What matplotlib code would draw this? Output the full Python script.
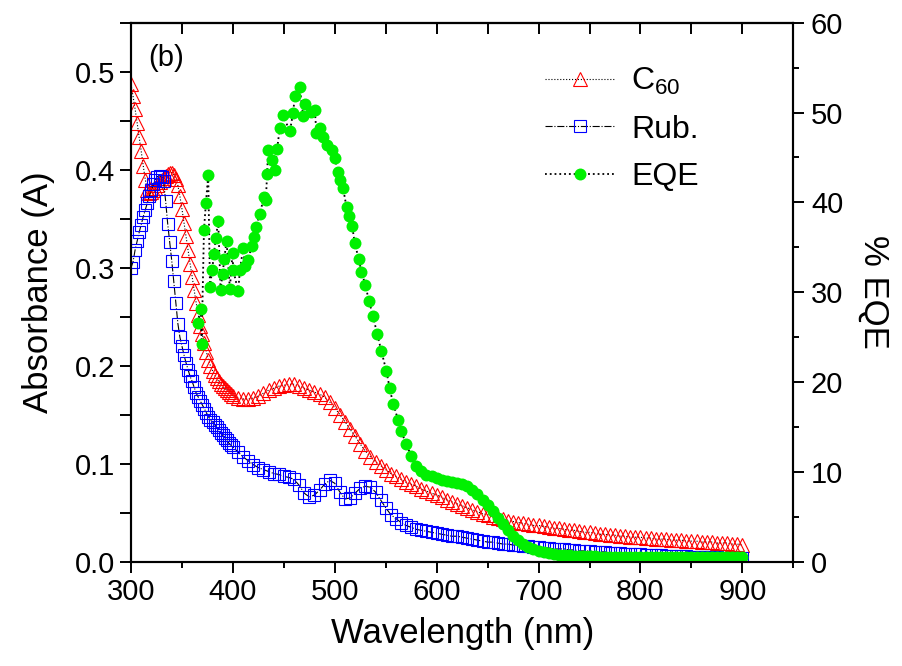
import numpy as np
import matplotlib
matplotlib.use("Agg")
import matplotlib.pyplot as plt
from matplotlib.ticker import MultipleLocator

plt.rcParams['font.family'] = ['Liberation Sans', 'DejaVu Sans']
plt.rcParams['mathtext.default'] = 'regular'

# ---------------- data ----------------
wl = list(range(300, 401, 2)) + list(range(405, 905, 5))

c60 = [0.487, 0.475, 0.462, 0.448, 0.433, 0.419, 0.404, 0.390, 0.379, 0.376,
       0.377, 0.379, 0.381, 0.384, 0.387, 0.389, 0.392, 0.394, 0.396, 0.397,
       0.397, 0.395, 0.391, 0.384, 0.373, 0.360, 0.346, 0.332, 0.318, 0.304,
       0.291, 0.277, 0.264, 0.252, 0.241, 0.232, 0.223, 0.214, 0.206, 0.200,
       0.195, 0.191, 0.187, 0.184, 0.181, 0.179, 0.177, 0.175, 0.173, 0.171,
       0.169,
       0.167, 0.166, 0.166, 0.167, 0.169, 0.172, 0.175, 0.177, 0.179,
       0.180, 0.181, 0.181, 0.179, 0.177, 0.175, 0.173, 0.171, 0.168, 0.163,
       0.157, 0.150, 0.143, 0.135, 0.128, 0.120, 0.113, 0.107, 0.102, 0.098,
       0.094, 0.090, 0.087, 0.084, 0.081, 0.079, 0.077, 0.074, 0.072, 0.070,
       0.068, 0.066, 0.063, 0.061, 0.059, 0.057, 0.055, 0.053, 0.051, 0.049,
       0.048, 0.046, 0.045, 0.044, 0.042, 0.041, 0.040, 0.039, 0.038, 0.037,
       0.037, 0.036, 0.035, 0.034, 0.034, 0.033, 0.032, 0.032, 0.031, 0.030,
       0.030, 0.029, 0.028, 0.028, 0.027, 0.027, 0.026, 0.026, 0.025, 0.025,
       0.025, 0.024, 0.024, 0.023, 0.023, 0.023, 0.022, 0.022, 0.022, 0.021,
       0.021, 0.021, 0.020, 0.020, 0.020, 0.019, 0.019, 0.019, 0.018, 0.018,
       0.017]

rub = [0.300, 0.306, 0.318, 0.327, 0.336, 0.344, 0.352, 0.359, 0.366, 0.373,
       0.379, 0.385, 0.390, 0.393, 0.394, 0.393, 0.388, 0.368, 0.345, 0.326,
       0.307, 0.286, 0.264, 0.243, 0.229, 0.220, 0.211, 0.203, 0.196, 0.189,
       0.184, 0.178, 0.172, 0.168, 0.164, 0.160, 0.156, 0.152, 0.148, 0.145,
       0.143, 0.140, 0.137, 0.134, 0.131, 0.129, 0.126, 0.124, 0.121, 0.119,
       0.117,
       0.112, 0.107, 0.103, 0.099, 0.096, 0.094, 0.092, 0.090, 0.089,
       0.087, 0.086, 0.084, 0.078, 0.070, 0.066, 0.068, 0.073, 0.079, 0.083,
       0.080, 0.071, 0.064, 0.065, 0.070, 0.075, 0.077, 0.076, 0.071, 0.063,
       0.055, 0.048, 0.044, 0.040, 0.037, 0.035, 0.033, 0.032, 0.031, 0.030,
       0.029, 0.028, 0.027, 0.026, 0.026, 0.025, 0.024, 0.023, 0.022, 0.021,
       0.020, 0.020, 0.019, 0.018, 0.018, 0.017, 0.017, 0.016, 0.016, 0.015,
       0.015, 0.014, 0.014, 0.013, 0.013, 0.013, 0.012, 0.012, 0.011, 0.011,
       0.011, 0.010, 0.010, 0.010, 0.009, 0.009, 0.009, 0.008, 0.008, 0.008,
       0.008, 0.007, 0.007, 0.007, 0.007, 0.006, 0.006, 0.006, 0.006, 0.006,
       0.005, 0.005, 0.005, 0.005, 0.005, 0.005, 0.004, 0.004, 0.004, 0.004,
       0.004]

eqe_wl = [366.0, 368.3, 369.3, 371.6, 373.5, 375.8, 377.5, 379.7, 381.4, 383.2,
          385.6, 387.9, 389.9, 391.5, 393.8, 397.0, 399.7, 400.3, 405.2, 406.9,
          410.1, 411.8, 415.0, 418.3, 420.6, 422.5, 426.5, 430.4, 432.4, 433.6,
          434.6, 437.9, 441.2, 443.4, 446.0, 449.2, 455.9, 459.0, 460.8, 465.7,
          469.0, 470.6, 477.1, 480.4, 482.0, 485.3, 488.5, 491.9, 496.8, 500.0,
          503.2, 504.9, 508.1, 511.5, 514.2, 517.0, 519.6, 523.4, 526.2, 530.0,
          533.6, 537.6, 541.5, 545.8, 550.7, 553.9, 557.2, 562.1, 565.0, 570.0,
          575.0, 580.0, 585.0, 590.0, 595.0, 600.0, 605.0, 610.0, 615.0, 620.0,
          625.0, 630.0, 635.0, 640.0, 645.0, 650.0, 655.0, 660.0, 665.0, 670.0,
          675.0, 680.0, 685.0, 690.0, 695.0, 700.0, 705.0, 710.0, 715.0, 720.0,
          725.0, 730.0, 735.0, 740.0, 745.0, 750.0, 755.0, 760.0, 765.0, 770.0,
          775.0, 780.0, 785.0, 790.0, 795.0, 800.0, 805.0, 810.0, 815.0, 820.0,
          825.0, 830.0, 835.0, 840.0, 845.0, 850.0, 855.0, 860.0, 865.0, 870.0,
          875.0, 880.0, 885.0, 890.0, 895.0, 900.0]

eqe = [26.6, 28.1, 24.2, 36.9, 39.9, 43.1, 30.6, 32.5, 34.3, 36.0,
       37.9, 30.3, 32.0, 33.7, 35.7, 30.4, 34.4, 32.5, 30.1, 32.5,
       34.9, 32.9, 33.6, 35.1, 36.2, 37.3, 38.7, 40.6, 40.3, 43.2,
       45.8, 44.7, 43.6, 45.9, 48.3, 49.7, 47.9, 49.9, 51.8, 52.8,
       49.6, 50.9, 50.1, 50.3, 47.7, 48.3, 47.3, 46.4, 45.8, 44.9,
       43.4, 42.5, 41.6, 39.5, 38.5, 37.4, 35.5, 33.7, 32.3, 30.8,
       29.0, 27.3, 25.4, 23.4, 21.2, 19.3, 17.6, 15.8, 14.6, 13.1,
       11.8, 10.7, 10.1, 9.7, 9.5, 9.3, 9.1, 9.0, 8.9, 8.8,
       8.6, 8.4, 8.0, 7.5, 6.9, 6.3, 5.6, 4.9, 4.2, 3.5,
       2.9, 2.4, 2.0, 1.6, 1.4, 1.2, 1.05, 0.95, 0.87, 0.80,
       0.76, 0.72, 0.68, 0.65, 0.62, 0.60, 0.58, 0.57, 0.56, 0.55,
       0.55, 0.54, 0.54, 0.53, 0.53, 0.52, 0.52, 0.52, 0.51, 0.51,
       0.51, 0.50, 0.50, 0.50, 0.50, 0.49, 0.49, 0.49, 0.49, 0.48,
       0.48, 0.48, 0.48, 0.47, 0.47, 0.47]

# ---------------- figure ----------------
fig = plt.figure(figsize=(9.02, 6.66), dpi=100)
ax = fig.add_axes([131/902, 1 - 561.7/666, (793.3 - 131)/902, (561.7 - 22.7)/666])
ax2 = ax.twinx()

TL = 7.7   # major tick length (pt)
TW = 1.4

l1, = ax.plot(wl, c60, linestyle=':', color='black', linewidth=0.8,
              marker='^', markersize=9.5, markerfacecolor='none',
              markeredgecolor='red', markeredgewidth=0.8, label='C$_{60}$', zorder=2)
l2, = ax.plot(wl, rub, linestyle='-.', color='black', linewidth=0.8,
              marker='s', markersize=8.0, markerfacecolor='none',
              markeredgecolor='blue', markeredgewidth=0.8, label='Rub.', zorder=3)
l3, = ax2.plot(eqe_wl, eqe, linestyle=':', color='black', linewidth=1.3,
               marker='o', markersize=8.6, markerfacecolor='#00f000',
               markeredgecolor='#00f000', markeredgewidth=0, label='EQE')

ax.set_xlim(300, 950)
ax.set_ylim(0, 0.55)
ax2.set_ylim(0, 60)

ax.xaxis.set_major_locator(MultipleLocator(100))
ax.xaxis.set_minor_locator(MultipleLocator(50))
ax.yaxis.set_major_locator(MultipleLocator(0.1))
ax.yaxis.set_minor_locator(MultipleLocator(0.05))
ax.yaxis.set_major_formatter(matplotlib.ticker.FormatStrFormatter('%.1f'))
ax2.yaxis.set_major_locator(MultipleLocator(10))
ax2.yaxis.set_minor_locator(MultipleLocator(5))

ax.set_xticks(np.arange(300, 901, 100))

for a in (ax, ax2):
    for s in a.spines.values():
        s.set_linewidth(1.5)

ax.tick_params(axis='x', which='major', direction='out', length=TL, width=TW,
               labelsize=21, pad=4, top=False)
ax.tick_params(axis='x', which='minor', direction='out', length=4.2, width=TW, top=False)
ax.tick_params(axis='y', which='major', direction='out', length=TL, width=TW,
               labelsize=21, pad=4)
ax.tick_params(axis='y', which='minor', direction='out', length=TL, width=TW)
ax2.tick_params(axis='y', which='major', direction='out', length=TL, width=TW,
                labelsize=21, pad=5)
ax2.tick_params(axis='y', which='minor', direction='out', length=4.2, width=TW)

top = ax.secondary_xaxis('top')
top.set_xticks(np.arange(300, 951, 50))
top.tick_params(axis='x', which='major', direction='in', length=TL, width=TW,
                labeltop=False)
top.xaxis.set_minor_locator(matplotlib.ticker.NullLocator())
top.spines['top'].set_linewidth(1.5)

ax.set_xlabel('Wavelength (nm)', fontsize=25, labelpad=8)
ax.set_ylabel('Absorbance (A)', fontsize=25, labelpad=14)
ax2.set_ylabel('% EQE', fontsize=25, rotation=270, labelpad=34)

fig.text(148/902, 1 - 58/666, '(b)', fontsize=21, ha='left', va='center')

leg = ax2.legend(handles=[l1, l2, l3], loc='upper left',
                 bbox_to_anchor=(545/902, 1 - 66/666), bbox_transform=fig.transFigure,
                 frameon=False, fontsize=23, handlelength=2.2, handletextpad=0.5,
                 labelspacing=0.55, borderaxespad=0, borderpad=0, numpoints=1)

fig.savefig('out.png', dpi=100)
